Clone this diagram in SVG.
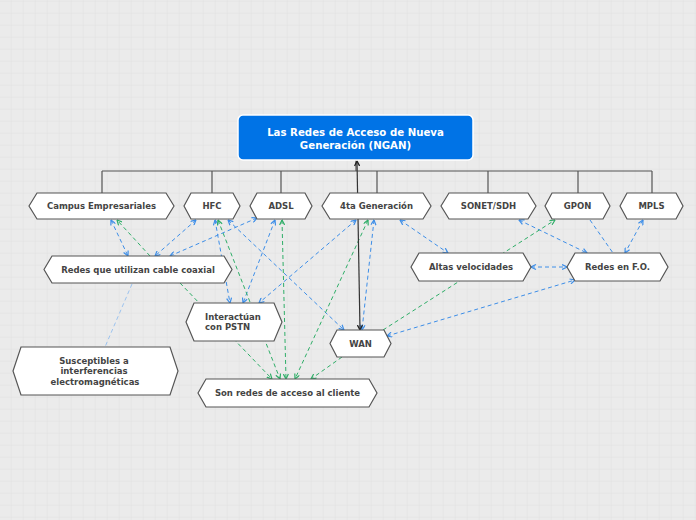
<svg xmlns="http://www.w3.org/2000/svg" width="696" height="520" viewBox="0 0 696 520">
<defs>
<pattern id="grid" x="10.7" y="0.7" width="12" height="12" patternUnits="userSpaceOnUse">
<rect width="12" height="12" fill="#ebebeb"/>
<path d="M0,0 H12 M0,0 V12" stroke="#dfdfdf" stroke-width="1" fill="none"/>
</pattern>
<marker id="ab" viewBox="0 0 6 6" refX="5.5" refY="3" markerWidth="6" markerHeight="6" markerUnits="userSpaceOnUse" orient="auto-start-reverse"><path d="M0.5,0.5 L5.5,3 L0.5,5.5" fill="none" stroke="#3d8ee8" stroke-width="1.2"/></marker>
<marker id="ag" viewBox="0 0 6 6" refX="5.5" refY="3" markerWidth="6" markerHeight="6" markerUnits="userSpaceOnUse" orient="auto-start-reverse"><path d="M0.5,0.5 L5.5,3 L0.5,5.5" fill="none" stroke="#2fae68" stroke-width="1.2"/></marker>
<marker id="ak" viewBox="0 0 6 6" refX="5.5" refY="3" markerWidth="6" markerHeight="6" markerUnits="userSpaceOnUse" orient="auto-start-reverse"><path d="M0.5,0.5 L5.5,3 L0.5,5.5" fill="none" stroke="#222" stroke-width="1.3"/></marker>
</defs>
<style>
.hex{fill:#fff;stroke:#555;stroke-width:1.2}
.t{font-family:"DejaVu Sans","Liberation Sans",sans-serif;font-weight:bold;font-size:8.5px;fill:#444;text-anchor:middle}
.tl{text-anchor:start}
.title{font-family:"DejaVu Sans","Liberation Sans",sans-serif;font-weight:bold;font-size:10.2px;fill:#fff;text-anchor:middle}
.tree{fill:none;stroke:#555;stroke-width:1.2}
.b{fill:none;stroke:#3d8ee8;stroke-width:1;stroke-dasharray:4 3}
.pb{fill:none;stroke:#9cc3ef;stroke-width:1;stroke-dasharray:4 3}
.g{fill:none;stroke:#2fae68;stroke-width:1;stroke-dasharray:4 3}
.k{fill:none;stroke:#333;stroke-width:1.2}
</style>
<rect width="696" height="520" fill="url(#grid)"/>
<g id="tree">
<path class="tree" d="M102,171 H652 M356,160 V171 M102,171 V193 M212,171 V193 M281,171 V193 M377,171 V193 M488,171 V193 M578,171 V193 M652,171 V193"/>
</g>
<g id="connectors">
<line class="b" x1="111" y1="220" x2="128" y2="256" marker-start="url(#ab)" marker-end="url(#ab)"/>
<line class="b" x1="196" y1="220" x2="155" y2="256" marker-start="url(#ab)" marker-end="url(#ab)"/>
<line class="b" x1="257" y1="218" x2="170" y2="256" marker-start="url(#ab)" marker-end="url(#ab)"/>
<line class="b" x1="215" y1="220" x2="230" y2="303" marker-start="url(#ab)" marker-end="url(#ab)"/>
<line class="b" x1="228" y1="220" x2="344" y2="330" marker-start="url(#ab)" marker-end="url(#ab)"/>
<line class="b" x1="275" y1="220" x2="243" y2="303" marker-start="url(#ab)" marker-end="url(#ab)"/>
<line class="b" x1="356" y1="220" x2="259" y2="303" marker-start="url(#ab)" marker-end="url(#ab)"/>
<line class="b" x1="374" y1="220" x2="362" y2="330" marker-start="url(#ab)" marker-end="url(#ab)"/>
<line class="b" x1="400" y1="220" x2="448" y2="253" marker-start="url(#ab)" marker-end="url(#ab)"/>
<line class="b" x1="519" y1="220" x2="587" y2="253" marker-start="url(#ab)" marker-end="url(#ab)"/>
<line class="b" x1="590" y1="220" x2="613" y2="253"/>
<line class="b" x1="643" y1="220" x2="625" y2="253" marker-start="url(#ab)" marker-end="url(#ab)"/>
<line class="b" x1="531" y1="267" x2="567" y2="267" marker-start="url(#ab)" marker-end="url(#ab)"/>
<line class="b" x1="387" y1="336" x2="575" y2="280" marker-start="url(#ab)" marker-end="url(#ab)"/>
<line class="pb" x1="132" y1="284" x2="105" y2="347"/>
<line class="g" x1="150" y1="256" x2="117" y2="220" marker-end="url(#ag)"/>
<line class="g" x1="180" y1="283" x2="272" y2="379" marker-end="url(#ag)"/>
<line class="g" x1="218" y1="220" x2="280" y2="379" marker-start="url(#ag)" marker-end="url(#ag)"/>
<line class="g" x1="282" y1="220" x2="286" y2="379" marker-start="url(#ag)" marker-end="url(#ag)"/>
<line class="g" x1="368" y1="220" x2="295" y2="379" marker-start="url(#ag)" marker-end="url(#ag)"/>
<line class="g" x1="342" y1="357" x2="311" y2="379" marker-end="url(#ag)"/>
<line class="g" x1="383" y1="330" x2="555" y2="220" marker-end="url(#ag)"/>
<line class="k" x1="357" y1="161" x2="360" y2="330" marker-start="url(#ak)" marker-end="url(#ak)"/>
</g>
<g id="root">
<rect x="238" y="115" width="235" height="45" rx="5" fill="#0073e6" stroke="#fff" stroke-width="1.5"/>
<text class="title" x="355.5" y="136">Las Redes de Acceso de Nueva</text>
<text class="title" x="355.5" y="149">Generación (NGAN)</text>
</g>
<g id="campus"><path class="hex" d="M29,206 L37,193 H166 L174,206 L166,219 H37 Z"/><text class="t" x="101.5" y="209">Campus Empresariales</text></g>
<g id="hfc"><path class="hex" d="M184,206 L191,193 H233 L240,206 L233,219 H191 Z"/><text class="t" x="212" y="209">HFC</text></g>
<g id="adsl"><path class="hex" d="M250,206 L257,193 H305 L312,206 L305,219 H257 Z"/><text class="t" x="281" y="209">ADSL</text></g>
<g id="cuarta"><path class="hex" d="M322,206 L330,193 H423 L431,206 L423,219 H330 Z"/><text class="t" x="376.5" y="209">4ta Generación</text></g>
<g id="sonet"><path class="hex" d="M441,206 L449,193 H528 L536,206 L528,219 H449 Z"/><text class="t" x="488.5" y="209">SONET/SDH</text></g>
<g id="gpon"><path class="hex" d="M545,206 L552,193 H603 L610,206 L603,219 H552 Z"/><text class="t" x="577.5" y="209">GPON</text></g>
<g id="mpls"><path class="hex" d="M620,206 L627,193 H676 L683,206 L676,219 H627 Z"/><text class="t" x="651.5" y="209">MPLS</text></g>
<g id="coaxial"><path class="hex" d="M44,269.5 L52,256 H224 L232,269.5 L224,283 H52 Z"/><text class="t" x="138" y="272.5">Redes que utilizan cable coaxial</text></g>
<g id="altas"><path class="hex" d="M411,267 L419,253 H523 L531,267 L523,281 H419 Z"/><text class="t" x="471" y="270">Altas velocidades</text></g>
<g id="fo"><path class="hex" d="M567,267 L575,253 H660 L668,267 L660,281 H575 Z"/><text class="t" x="617.5" y="270">Redes en F.O.</text></g>
<g id="pstn"><path class="hex" d="M186,322 L194,303 H274 L282,322 L274,341 H194 Z"/><text class="t tl" x="205" y="320">Interactúan</text><text class="t tl" x="205" y="330">con PSTN</text></g>
<g id="wan"><path class="hex" d="M330,343.5 L337,330 H384 L391,343.5 L384,357 H337 Z"/><text class="t" x="360.5" y="346.5">WAN</text></g>
<g id="susceptibles"><path class="hex" d="M13,371 L21,347 H170 L178,371 L170,395 H21 Z"/><text class="t" x="94" y="364">Susceptibles a</text><text class="t" x="94" y="374">interferencias</text><text class="t" x="95" y="384.5">electromagnéticas</text></g>
<g id="son"><path class="hex" d="M198,393 L206,379 H369 L377,393 L369,407 H206 Z"/><text class="t" x="287.5" y="396">Son redes de acceso al cliente</text></g>
</svg>
